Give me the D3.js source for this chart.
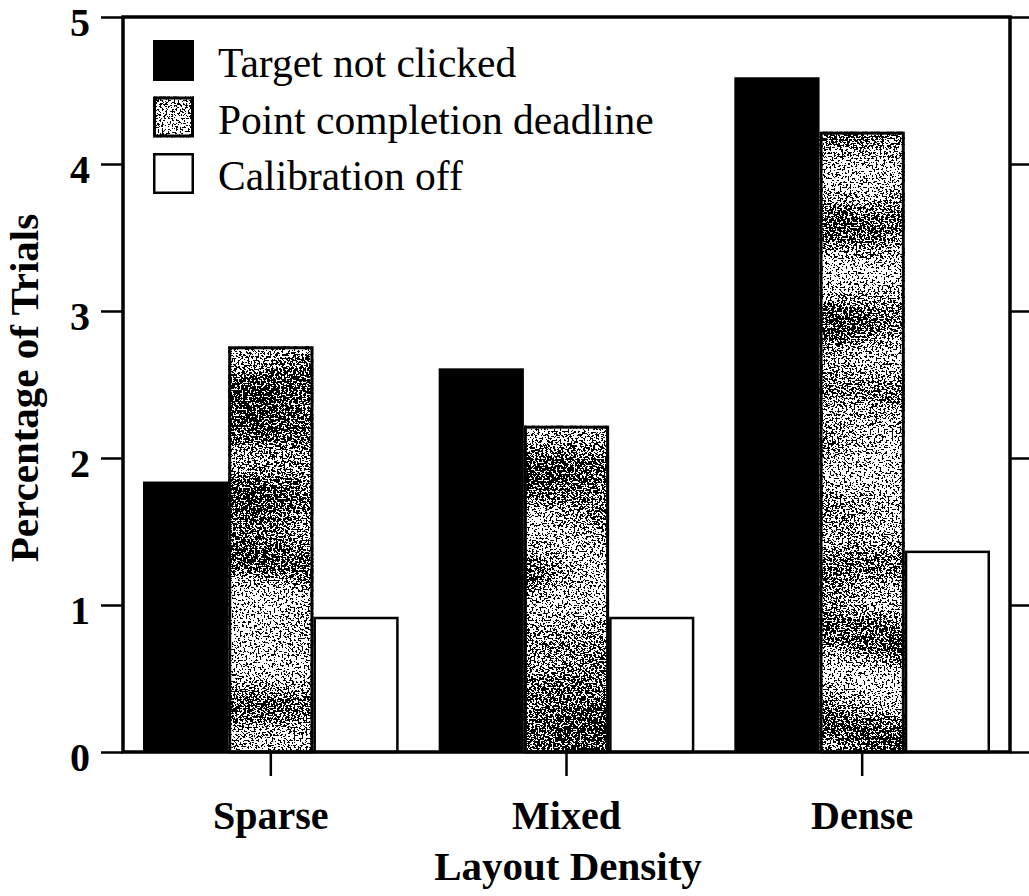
<!DOCTYPE html>
<html><head><meta charset="utf-8">
<script src="https://cdn.jsdelivr.net/npm/d3@7"></script>
<style>body{margin:0;background:#fff}svg{display:block}</style>
</head><body>
<script>
const categories = ["Sparse", "Mixed", "Dense"];
const seriesNames = ["Target not clicked", "Point completion deadline", "Calibration off"];
const targetNotClicked = [1.84, 2.61, 4.59];
const pointDeadline = [2.76, 2.22, 4.22];
const calibrationOff = [0.92, 0.92, 1.37];
const yTicks = [0, 1, 2, 3, 4, 5];
const seriesValues = [targetNotClicked, pointDeadline, calibrationOff];

const W = 1029, H = 896;
const L = 123, R = 1010, T = 17, B = 752;
const svg = d3.select("body").append("svg").attr("width", W).attr("height", H);

const defs = svg.append("defs");
const f = defs.append("filter").attr("id", "stipple").attr("filterUnits", "userSpaceOnUse")
  .attr("x", 0).attr("y", 0).attr("width", W).attr("height", H);
f.append("feTurbulence").attr("type", "fractalNoise").attr("baseFrequency", "0.5 0.55").attr("numOctaves", 2).attr("seed", 3).attr("result", "n1");
f.append("feColorMatrix").attr("in", "n1").attr("type", "matrix")
  .attr("values", "0 0 0 0 0  0 0 0 0 0  0 0 0 0 0  1 0 0 0 0").attr("result", "a1");
f.append("feTurbulence").attr("type", "fractalNoise").attr("baseFrequency", "0.006 0.02").attr("numOctaves", 1).attr("seed", 11).attr("result", "n2");
f.append("feColorMatrix").attr("in", "n2").attr("type", "matrix")
  .attr("values", "0 0 0 0 0  0 0 0 0 0  0 0 0 0 0  1 0 0 0 0").attr("result", "a2");
f.append("feComposite").attr("in", "a1").attr("in2", "a2").attr("operator", "arithmetic")
  .attr("k1", 0).attr("k2", 1.2).attr("k3", 0.45).attr("k4", -0.34).attr("result", "s");
f.append("feComponentTransfer").attr("in", "s").attr("result", "t")
  .append("feFuncA").attr("type", "discrete").attr("tableValues", "0 0 0 1 1 1");
f.append("feFlood").attr("flood-color", "#fff").attr("result", "w");
f.append("feMerge").attr("result", "m").call(m => { m.append("feMergeNode").attr("in", "w"); m.append("feMergeNode").attr("in", "t"); });
f.append("feComposite").attr("in", "m").attr("in2", "SourceGraphic").attr("operator", "in");

const x0 = d3.scaleBand().domain(categories).range([L, R]).paddingInner(0.1353).paddingOuter(0.0676);
const x1 = d3.scaleBand().domain(d3.range(3)).range([0, x0.bandwidth()]);
const y = d3.scaleLinear().domain([0, 5]).range([B, T]);

const serif = "'Liberation Serif', 'Times New Roman', serif";

// bars
categories.forEach((c, ci) => {
  seriesValues.forEach((vals, si) => {
    const bx = x0(c) + x1(si), bw = x1.bandwidth(), by = y(vals[ci]), bh = B - y(vals[ci]);
    if (si === 0) {
      svg.append("rect").attr("x", bx).attr("y", by).attr("width", bw).attr("height", bh).attr("fill", "#000");
    } else if (si === 1) {
      svg.append("rect").attr("x", bx).attr("y", by).attr("width", bw).attr("height", bh).attr("filter", "url(#stipple)").attr("fill", "#999");
      svg.append("rect").attr("x", bx + 1.5).attr("y", by + 1.5).attr("width", bw - 3).attr("height", bh - 1.5)
        .attr("fill", "none").attr("stroke", "#000").attr("stroke-width", 3);
    } else {
      svg.append("rect").attr("x", bx + 1.25).attr("y", by + 1.25).attr("width", bw - 2.5).attr("height", bh - 1.25)
        .attr("fill", "#fff").attr("stroke", "#000").attr("stroke-width", 2.5);
    }
  });
});

// frame
svg.append("rect").attr("x", L).attr("y", T).attr("width", R - L).attr("height", B - T)
  .attr("fill", "none").attr("stroke", "#000").attr("stroke-width", 3.5);

// left axis
const yl = svg.append("g").attr("transform", `translate(${L},0)`)
  .call(d3.axisLeft(y).tickValues(yTicks).tickSize(22).tickPadding(11).tickFormat(d3.format("d")));
yl.select(".domain").remove();
yl.selectAll(".tick line").attr("stroke-width", 2.5);
yl.selectAll(".tick text").attr("dy", "0.45em").attr("font-family", serif).attr("font-weight", "bold").attr("font-size", 40).attr("fill", "#000");

// right axis ticks
const yr = svg.append("g").attr("transform", `translate(${R},0)`)
  .call(d3.axisRight(y).tickValues(yTicks).tickSize(22).tickFormat(""));
yr.select(".domain").remove();
yr.selectAll(".tick line").attr("stroke-width", 2.5);

// bottom axis
const xa = svg.append("g").attr("transform", `translate(0,${B})`)
  .call(d3.axisBottom(x0).tickSize(24).tickPadding(25));
xa.select(".domain").remove();
xa.selectAll(".tick line").attr("stroke-width", 2.5);
xa.selectAll(".tick text").attr("font-family", serif).attr("font-weight", "bold").attr("font-size", 40).attr("fill", "#000");

// axis titles
svg.append("text").attr("x", 568).attr("y", 880).attr("text-anchor", "middle")
  .attr("font-family", serif).attr("font-weight", "bold").attr("font-size", 41).text("Layout Density");
svg.append("text").attr("transform", `translate(38,388) rotate(-90)`).attr("text-anchor", "middle")
  .attr("font-family", serif).attr("font-weight", "bold").attr("font-size", 41).text("Percentage of Trials");

// legend
const leg = svg.append("g");
seriesNames.forEach((n, i) => {
  const yy = 40 + i * 56.5;
  if (i === 0) leg.append("rect").attr("x", 153).attr("y", yy).attr("width", 41).attr("height", 41).attr("fill", "#000");
  else if (i === 1) {
    leg.append("rect").attr("x", 153).attr("y", yy).attr("width", 41).attr("height", 41).attr("filter", "url(#stipple)").attr("fill", "#999");
    leg.append("rect").attr("x", 154.5).attr("y", yy + 1.5).attr("width", 38).attr("height", 38).attr("fill", "none").attr("stroke", "#000").attr("stroke-width", 3);
  } else {
    leg.append("rect").attr("x", 154.25).attr("y", yy + 1.25).attr("width", 38.5).attr("height", 38.5).attr("fill", "#fff").attr("stroke", "#000").attr("stroke-width", 2.5);
  }
  leg.append("text").attr("x", 218).attr("y", yy + 37).attr("font-family", serif).attr("font-size", 41.5).attr("fill", "#000").text(n);
});
</script>
</body></html>
